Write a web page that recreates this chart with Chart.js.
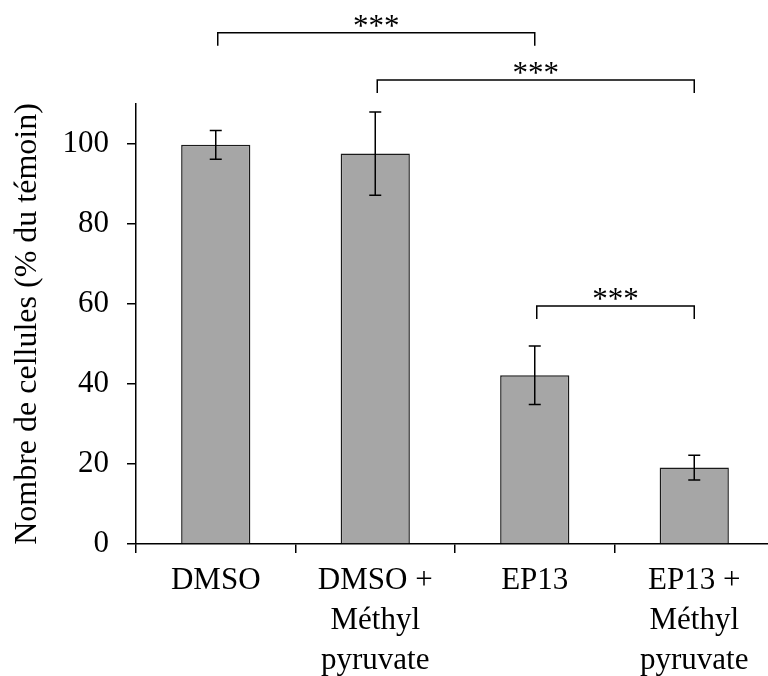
<!DOCTYPE html>
<html>
<head>
<meta charset="utf-8">
<script src="https://cdn.jsdelivr.net/npm/chart.js@4.4.1/dist/chart.umd.min.js"></script>
<style>
html,body{margin:0;padding:0;overflow:hidden;background:#fff;}
#boite{width:776px;height:676px;}
</style>
</head>
<body>
<div id="boite"><canvas id="grafico"></canvas></div>
<script>

const categories = [
['DMSO'],
['DMSO +','Méthyl','pyruvate'],
['EP13'],
['EP13 +','Méthyl','pyruvate']
];

const moyennes = [99.8, 97.6, 42.2, 19.1];

const erreurs = [3.6, 10.4, 7.3, 3.1];

const yTicks = [0, 20, 40, 60, 80, 100];

// crochets de significativité (indices des barres, niveau en % )
const crochetsDebut = [0, 1, 2];
const crochetsFin = [2, 3, 3];
const crochetsNiveau = [127.8, 116, 59.5];
const crochetsTexte = ['***', '***', '***'];

const police = '"Liberation Serif", "Times New Roman", serif';

const annotations = {

id:'annotations',

afterDatasetsDraw(chart){

const ctx = chart.ctx;
const y = chart.scales.y;
const barres = chart.getDatasetMeta(0).data;

ctx.save();
ctx.strokeStyle = '#000';
ctx.fillStyle = '#000';
ctx.lineWidth = 1.5;

// barres d'erreur
barres.forEach((b, i) => {
const haut = y.getPixelForValue(moyennes[i] + erreurs[i]);
const bas = y.getPixelForValue(moyennes[i] - erreurs[i]);
ctx.beginPath();
ctx.moveTo(b.x, haut);
ctx.lineTo(b.x, bas);
ctx.moveTo(b.x - 6, haut);
ctx.lineTo(b.x + 6, haut);
ctx.moveTo(b.x - 6, bas);
ctx.lineTo(b.x + 6, bas);
ctx.stroke();
});

// crochets
ctx.font = '31px ' + police;
ctx.textAlign = 'center';
ctx.textBaseline = 'alphabetic';

crochetsNiveau.forEach((niv, i) => {
const x1 = barres[crochetsDebut[i]].x + 2;
const x2 = barres[crochetsFin[i]].x;
const yy = y.getPixelForValue(niv);
ctx.beginPath();
ctx.moveTo(x1, yy + 13);
ctx.lineTo(x1, yy);
ctx.lineTo(x2, yy);
ctx.lineTo(x2, yy + 13);
ctx.stroke();
ctx.fillText(crochetsTexte[i], (x1 + x2) / 2, yy + 3);
});

ctx.restore();

}

};

new Chart(document.getElementById('grafico'), {

type:'bar',

data:{
labels:categories,
datasets:[{
data:moyennes,
backgroundColor:'#A6A6A6',
borderColor:'#1a1a1a',
borderWidth:1.5,
barPercentage:0.434,
categoryPercentage:1
}]
},

options:{
responsive:true,
maintainAspectRatio:false,
animation:false,
layout:{padding:{top:104, right:2, left:0, bottom:0}},
plugins:{
legend:{display:false},
tooltip:{enabled:false}
},
scales:{
x:{
grid:{display:true, drawOnChartArea:false, drawTicks:true, tickLength:9, color:'#000', lineWidth:1.5, offset:true},
border:{display:true, color:'#000', width:1.5},
ticks:{color:'#000', font:{family:police, size:31, lineHeight:'40px'}, padding:8, maxRotation:0, autoSkip:false},
afterFit(s){ s.height = 132; }
},
y:{
min:0,
max:110,
afterBuildTicks(s){ s.ticks = yTicks.map(v => ({value:v})); },
grid:{drawOnChartArea:false, drawTicks:true, tickLength:9, color:'#000', lineWidth:1.5},
border:{display:true, color:'#000', width:1.5},
ticks:{color:'#000', font:{family:police, size:31}, padding:18},
title:{display:true, text:'Nombre de cellules (% du témoin)', color:'#000', font:{family:police, size:32}, padding:{top:8, bottom:0}},
afterFit(s){ s.width = 136; }
}
}
},

plugins:[annotations]

});

</script>
</body>
</html>
